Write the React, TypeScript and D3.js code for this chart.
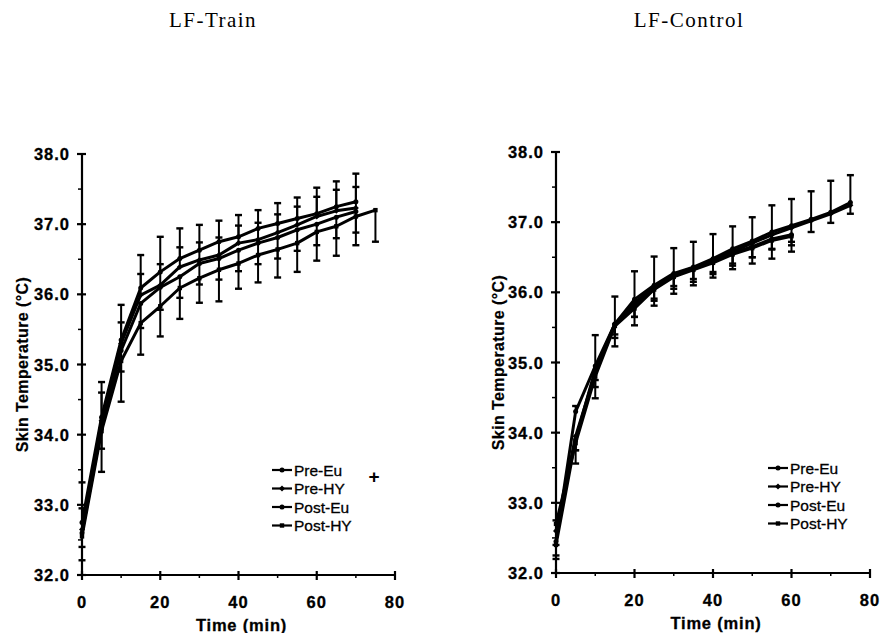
import React from 'react';
import * as d3 from 'd3';

const W = 890;
const H = 633;

const times = [0, 5, 10, 15, 20, 25, 30, 35, 40, 45, 50, 55, 60, 65, 70, 75];
const seriesNames = ['Pre-Eu', 'Pre-HY', 'Post-Eu', 'Post-HY'];
const xTicks = [0, 20, 40, 60, 80];
const yTicks = [32, 33, 34, 35, 36, 37, 38];

// LF-Train
const trainPreEu = [32.75, 34.25, 35.35, 36.09, 36.32, 36.51, 36.63, 36.75, 36.82, 36.94, 37.01, 37.08, 37.15, 37.25, 37.32];
const trainPreHY = [32.65, 34.2, 35.3, 35.99, 36.13, 36.39, 36.49, 36.56, 36.73, 36.78, 36.88, 36.99, 37.11, 37.19, 37.23];
const trainPostEu = [32.6, 34.1, 35.2, 35.87, 36.1, 36.25, 36.44, 36.51, 36.63, 36.73, 36.81, 36.92, 37.0, 37.1, 37.18];
const trainPostHY = [32.55, 34.05, 35.05, 35.59, 35.83, 36.09, 36.23, 36.35, 36.44, 36.56, 36.64, 36.73, 36.89, 36.97, 37.11, 37.2];
const trainErrPreEu = [0.57, 0.5, 0.5, 0.47, 0.5, 0.43, 0.36, 0.3, 0.31, 0.26, 0.29, 0.3, 0.37, 0.36, 0.4];
const trainErrPreHY = [0.3, 0.4, 0.3, 0.3, 0.3, 0.28, 0.25, 0.25, 0.25, 0.24, 0.26, 0.26, 0.28, 0.3, 0.3];
const trainErrPostEu = [0.2, 0.3, 0.3, 0.35, 0.32, 0.3, 0.3, 0.3, 0.3, 0.3, 0.3, 0.3, 0.3, 0.3, 0.3];
const trainErrPostHY = [0.34, 0.58, 0.58, 0.45, 0.43, 0.44, 0.35, 0.45, 0.36, 0.39, 0.4, 0.41, 0.41, 0.42, 0.41, 0.45];

// LF-Control
const ctrlPreEu = [32.45, 34.3, 34.95, 35.55, 35.9, 36.1, 36.27, 36.36, 36.48, 36.62, 36.73, 36.86, 36.95, 37.04, 37.14, 37.28];
const ctrlPreHY = [32.6, 33.95, 34.85, 35.55, 35.85, 36.08, 36.25, 36.35, 36.46, 36.58, 36.7, 36.82, 36.92, 37.02, 37.12, 37.24];
const ctrlPostEu = [32.4, 33.9, 34.9, 35.55, 35.8, 36.06, 36.24, 36.34, 36.44, 36.56, 36.65, 36.76, 36.82];
const ctrlPostHY = [32.7, 33.85, 34.8, 35.52, 35.77, 36.04, 36.22, 36.32, 36.42, 36.54, 36.63, 36.74, 36.8];
const ctrlErrPreEu = [0.3, 0.08, 0.44, 0.39, 0.4, 0.41, 0.36, 0.36, 0.35, 0.32, 0.34, 0.38, 0.38, 0.4, 0.45, 0.39];
const ctrlErrPreHY = [0.2, 0.2, 0.2, 0.2, 0.2, 0.2, 0.2, 0.2, 0.2, 0.2, 0.2, 0.2, 0.2, 0.16, 0.13, 0.12];
const ctrlErrPostEu = [0.15, 0.15, 0.15, 0.15, 0.15, 0.15, 0.15, 0.15, 0.15, 0.15, 0.15, 0.15, 0.15];
const ctrlErrPostHY = [0.5, 0.29, 0.31, 0.29, 0.24, 0.23, 0.24, 0.22, 0.21, 0.21, 0.22, 0.26, 0.22];

type Series = { name: string; values: number[]; err: number[]; dir: number; marker: string };

const trainSeries: Series[] = [
  { name: seriesNames[0], values: trainPreEu, err: trainErrPreEu, dir: 1, marker: 'circle' },
  { name: seriesNames[1], values: trainPreHY, err: trainErrPreHY, dir: 1, marker: 'diamond' },
  { name: seriesNames[2], values: trainPostEu, err: trainErrPostEu, dir: -1, marker: 'circle' },
  { name: seriesNames[3], values: trainPostHY, err: trainErrPostHY, dir: -1, marker: 'square' },
];
const ctrlSeries: Series[] = [
  { name: seriesNames[0], values: ctrlPreEu, err: ctrlErrPreEu, dir: 1, marker: 'circle' },
  { name: seriesNames[1], values: ctrlPreHY, err: ctrlErrPreHY, dir: -1, marker: 'diamond' },
  { name: seriesNames[2], values: ctrlPostEu, err: ctrlErrPostEu, dir: -1, marker: 'circle' },
  { name: seriesNames[3], values: ctrlPostHY, err: ctrlErrPostHY, dir: -1, marker: 'square' },
];

const sans = 'Arial, "Liberation Sans", Helvetica, sans-serif';

function Marker({ x, y, kind }: { x: number; y: number; kind: string }) {
  if (kind === 'diamond') return <path d={`M${x},${y - 3}L${x + 3},${y}L${x},${y + 3}L${x - 3},${y}Z`} fill="#000" />;
  if (kind === 'square') return <rect x={x - 2.2} y={y - 2.2} width={4.4} height={4.4} fill="#000" />;
  return <circle cx={x} cy={y} r={2.5} fill="#000" />;
}

function Panel(props: {
  title: string; titleX: number; x0: number; x1: number; y0: number; y1: number;
  series: Series[]; legendX: number; legendY: number; labelX: number; plus?: boolean;
}) {
  const { x0, x1, y0, y1, series } = props;
  const x = d3.scaleLinear().domain([0, 80]).range([x0, x1]);
  const y = d3.scaleLinear().domain([32, 38]).range([y0, y1]);
  const line = d3.line<number>().x((_, i) => x(times[i])).y(d => y(d));
  const minorY = d3.range(32.5, 38, 1);
  const minorX = [10, 30, 50, 70];
  const midY = (y0 + y1) / 2;
  return (
    <g>
      <text x={props.titleX} y={27} textAnchor="middle" fontFamily='"Liberation Serif", "Times New Roman", serif' fontSize={21} letterSpacing={1.5}>{props.title}</text>
      {/* error bars */}
      {series.map(s => s.values.map((v, i) => {
        const e = s.err[i];
        if (e == null) return null;
        const cx = x(times[i]);
        const yEnd = y(v + s.dir * e);
        return (
          <g key={s.name + i} stroke="#000">
            <line x1={cx} x2={cx} y1={y(v)} y2={yEnd} strokeWidth={2} />
            <line x1={cx - 3.5} x2={cx + 3.5} y1={yEnd} y2={yEnd} strokeWidth={2.4} />
          </g>
        );
      }))}
      {series.map(s => (
        <path key={s.name} d={line(s.values) || ''} fill="none" stroke="#000" strokeWidth={3} strokeLinejoin="round" />
      ))}
      {series.map(s => s.values.map((v, i) => (
        <Marker key={s.name + 'm' + i} x={x(times[i])} y={y(v)} kind={s.marker} />
      )))}
      {/* axes */}
      <line x1={x0} x2={x0} y1={y(32)} y2={y(38)} stroke="#000" strokeWidth={2.2} />
      <line x1={x0} x2={x1} y1={y(32)} y2={y(32)} stroke="#000" strokeWidth={2.2} />
      {yTicks.map(t => (
        <g key={'y' + t}>
          <line x1={x0 - 5} x2={x0 + 4} y1={y(t)} y2={y(t)} stroke="#000" strokeWidth={2.2} />
          <text x={x0 - 12} y={y(t) + 6} textAnchor="end" fontFamily={sans} fontWeight="bold" fontSize={16.5} letterSpacing={1} stroke="#000" strokeWidth={0.3}>{t.toFixed(1)}</text>
        </g>
      ))}
      {minorY.map(t => (
        <line key={'my' + t} x1={x0 - 4} x2={x0} y1={y(t)} y2={y(t)} stroke="#000" strokeWidth={1.5} />
      ))}
      {xTicks.map(t => (
        <g key={'x' + t}>
          <line x1={x(t)} x2={x(t)} y1={y(32) - 4} y2={y(32) + 5} stroke="#000" strokeWidth={2.2} />
          <text x={x(t)} y={y(32) + 33} textAnchor="middle" fontFamily={sans} fontWeight="bold" fontSize={16.5} letterSpacing={1} stroke="#000" strokeWidth={0.3}>{t}</text>
        </g>
      ))}
      {minorX.map(t => (
        <line key={'mx' + t} x1={x(t)} x2={x(t)} y1={y(32)} y2={y(32) + 3} stroke="#000" strokeWidth={1.5} />
      ))}
      <text x={(x0 + x1) / 2 + 3} y={y(32) + 56} textAnchor="middle" fontFamily={sans} fontWeight="bold" fontSize={16.5} letterSpacing={0.8} stroke="#000" strokeWidth={0.3}>Time (min)</text>
      <text transform={`translate(${props.labelX},${midY}) rotate(-90)`} textAnchor="middle" fontFamily={sans} fontWeight="bold" fontSize={16} letterSpacing={0.4} stroke="#000" strokeWidth={0.2}>Skin Temperature (°C)</text>
      {/* legend */}
      {series.map((s, i) => {
        const ly = props.legendY + i * 18.5;
        return (
          <g key={'lg' + s.name}>
            <line x1={props.legendX} x2={props.legendX + 20} y1={ly} y2={ly} stroke="#000" strokeWidth={2.2} />
            <Marker x={props.legendX + 10} y={ly} kind={s.marker} />
            <text x={props.legendX + 22} y={ly + 5.5} fontFamily={sans} fontSize={15.5} stroke="#000" strokeWidth={0.3}>{s.name}</text>
          </g>
        );
      })}
      {props.plus && (
        <text x={props.legendX + 102} y={props.legendY + 13} textAnchor="middle" fontFamily={sans} fontWeight="bold" fontSize={19}>+</text>
      )}
    </g>
  );
}

export default function App() {
  return (
    <svg width={W} height={H} style={{ position: 'absolute', left: 0, top: 0, background: '#fff' }}>
      <rect width={W} height={H} fill="#fff" />
      <Panel title="LF-Train" titleX={213} x0={82} x1={395} y0={575} y1={154}
        series={trainSeries} legendX={272} legendY={470} labelX={28} plus />
      <Panel title="LF-Control" titleX={689} x0={556} x1={870} y0={573} y1={152}
        series={ctrlSeries} legendX={768} legendY={468} labelX={504} />
    </svg>
  );
}
